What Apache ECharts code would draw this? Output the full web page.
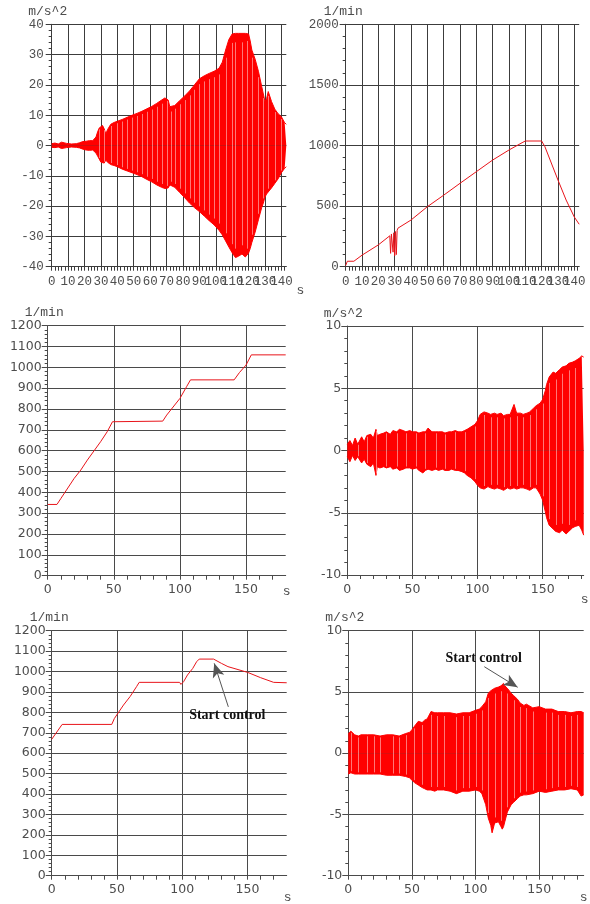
<!DOCTYPE html>
<html><head><meta charset="utf-8">
<script src="https://cdn.jsdelivr.net/npm/echarts@6/dist/echarts.min.js"></script>
<style>html,body{margin:0;padding:0;background:#fff}#c{width:590px;height:904px}</style>
</head><body><div id="c"></div>
<script>
// ---------- Panel 1: acceleration run-up (m/s^2) ----------
const p1Time  = [0,2,4,6,7,9,12,15,17,19,21,23,25,26,27,28,29,30,31,32,33,34,36,38,40,43,46,49,52,55,58,61,64,67,69,70,71,72,73,75,78,81,84,87,90,93,96,99,102,104,106,108,110,112,114,116,118,119,120,121,122,124,126,128,129,130,131,132,134,136,138,140,142,143];
const p1Upper = [0.6,0.8,0.5,1.1,0.6,0.7,0.5,0.6,0.9,1.3,1.4,1.6,1.6,1.8,2.8,4.5,5.8,6.4,6.6,5.5,3.8,5.2,7.0,7.6,8.0,8.6,9.3,10.0,10.6,11.3,12.1,12.9,13.9,15.0,15.7,16.0,15.0,12.8,12.2,13.2,14.8,16.3,18.0,20.0,22.0,23.0,23.8,24.5,25.5,27.5,31.5,35.0,36.8,37.0,37.0,37.0,37.0,37.5,36.8,34.5,31.5,28.5,24.5,19.5,17.0,14.5,15.5,17.8,14.5,12.0,10.5,9.5,7.5,7.0];
const p1Lower = [-0.6,-0.7,-0.5,-1.0,-0.6,-0.7,-0.5,-0.6,-0.8,-1.2,-1.5,-1.6,-1.5,-1.7,-2.5,-3.5,-4.5,-5.5,-6.0,-5.8,-4.8,-5.5,-6.3,-6.6,-7.0,-7.8,-8.4,-9.0,-9.6,-10.3,-11.2,-12.0,-13.0,-13.8,-14.2,-14.5,-14.0,-13.0,-13.0,-13.8,-15.5,-17.2,-19.0,-20.5,-21.8,-23.3,-24.8,-26.2,-28.0,-29.5,-31.5,-33.5,-35.4,-37.0,-36.5,-35.8,-36.8,-37.0,-35.5,-34.0,-32.0,-28.6,-24.5,-20.5,-19.0,-17.0,-16.0,-15.5,-14.0,-12.5,-11.0,-9.0,-7.5,-7.0];
const p1Stripes = [29,32,36,40,43,46,49,52,55,58,61,64,67,70,73,75,78,81,84,87,90,93,96,99,102,106,110,112,116,119,122,126,129,132,136,140];

// ---------- Panel 2: speed run-up (1/min) ----------
const p2Time  = [0,1,5,6,10,20,27,27.5,28,28.5,29,29.5,30,30.5,31,31.5,32,40,50,60,70,80,90,100,108,110,120,121,122,130,135,140,143];
const p2Speed = [10,45,45,35,95,180,255,110,270,260,120,280,90,290,100,300,318,385,495,590,688,784,880,963,1023,1037,1037,1030,990,715,550,410,350];

// ---------- Panel 3: speed steps (1/min) ----------
const p3Time  = [0,7,10,20,25,30,40,45,49,50,87,90,100,105,108,141,145,150,154,180];
const p3Speed = [342,342,371,467,507,555,643,691,739,742,742,771,851,907,940,940,975,1011,1060,1060];

// ---------- Panel 4: acceleration, no control (m/s^2) ----------
const p4Time  = [0,2,4,6,8,11,13,15,18,20,22,23,25,28,30,33,35,38,40,43,45,48,50,53,55,58,60,62,65,68,70,73,75,78,80,83,85,88,90,92,95,98,100,102,105,108,110,113,115,118,120,123,125,128,130,133,135,138,140,143,145,148,150,152,153,155,158,160,163,165,168,170,173,175,178,180,181.5];
const p4Upper = [0.5,0.8,0.4,1.0,0.5,1.1,0.7,1.2,1.3,1.0,1.7,1.2,1.3,1.4,1.5,1.3,1.6,1.5,1.7,1.6,1.5,1.6,1.5,1.5,1.4,1.5,1.5,1.8,1.5,1.5,1.5,1.5,1.4,1.5,1.5,1.6,1.5,1.5,1.6,1.7,1.9,2.1,2.4,2.9,3.1,3.0,2.9,3.0,2.9,3.0,2.8,2.9,2.9,3.7,3.0,3.0,2.9,3.0,3.1,3.4,3.6,3.8,4.1,4.8,5.3,5.9,6.3,6.2,6.5,6.7,6.8,7.0,7.1,7.2,7.4,7.6,7.5];
const p4Lower = [-0.5,-0.9,-0.4,-0.8,-0.5,-1.0,-0.7,-1.1,-1.3,-1.0,-2.0,-1.3,-1.4,-1.3,-1.4,-1.3,-1.5,-1.4,-1.6,-1.5,-1.4,-1.4,-1.5,-1.4,-1.6,-1.8,-1.6,-1.5,-1.6,-1.5,-1.6,-1.5,-1.6,-1.6,-1.5,-1.6,-1.6,-1.7,-1.8,-2.0,-2.2,-2.5,-2.8,-3.0,-3.1,-2.9,-3.0,-3.1,-3.0,-3.1,-3.2,-3.0,-3.1,-3.0,-3.1,-3.0,-3.0,-3.1,-3.2,-3.0,-3.0,-3.5,-4.0,-4.9,-5.4,-6.0,-6.3,-6.5,-6.6,-6.4,-6.7,-6.5,-6.2,-6.1,-6.0,-6.4,-6.8];
const p4Stripes = [8,15,22,30,38,45,53,60,68,75,83,90,98,105,110,115,120,125,130,135,140,145,150,155,160,165,170,175];

// ---------- Panel 5: speed with control (1/min) ----------
const p5Time  = [0,8,46,48,55,60,65,67,98,99,101,104,108,111,113,124,130,135,150,160,170,180];
const p5Speed = [668,741,741,770,836,877,926,947,947,937,950,983,1015,1048,1061,1061,1040,1024,996,970,947,945];

// ---------- Panel 6: acceleration with control (m/s^2) ----------
const p6Time  = [0,2,5,8,10,15,20,25,30,35,40,45,48,50,52,55,58,60,62,65,68,70,75,80,85,90,95,100,103,105,108,110,112,113,115,118,120,121,122,123,125,128,130,133,135,138,140,145,150,155,160,165,170,175,180,183,185];
const p6Upper = [1.6,1.8,1.5,1.4,1.5,1.5,1.5,1.4,1.5,1.5,1.4,1.6,1.7,1.9,2.2,2.6,2.5,2.7,2.8,3.4,3.3,3.3,3.3,3.3,3.2,3.3,3.3,3.5,3.6,3.8,4.2,4.9,5.1,5.2,5.3,5.4,5.5,5.5,5.7,5.5,5.3,4.9,4.7,4.4,4.1,3.9,4.0,3.7,3.8,3.6,3.6,3.4,3.4,3.3,3.4,3.4,3.3];
const p6Lower = [-1.7,-1.6,-1.7,-1.7,-1.7,-1.7,-1.7,-1.7,-1.8,-1.8,-1.8,-1.9,-2.0,-2.2,-2.4,-2.6,-2.8,-2.9,-3.0,-3.0,-3.1,-3.0,-3.0,-3.1,-3.3,-3.1,-3.1,-3.0,-3.1,-3.3,-4.2,-5.3,-5.9,-6.5,-5.7,-5.6,-6.0,-6.2,-6.0,-5.6,-4.8,-4.2,-4.0,-3.7,-3.5,-3.4,-3.4,-3.3,-3.1,-3.2,-3.1,-3.0,-3.0,-2.9,-3.0,-3.5,-3.4];
const p6Stripes = [2,8,15,20,25,35,40,45,52,58,65,70,75,85,90,95,100,105,110,115,120,125,130,135,140,145,155,160,165,170,175,180];

// ---------- Annotations ("Start control") in data coordinates ----------
const p5NoteTail = [135.3, 827], p5NoteHead = [124.5, 1040], p5NoteText = [134.5, 785];
const p6NoteTail = [106.9, 7.06], p6NoteHead = [133.1, 5.38], p6NoteText = [106.4, 7.75];
const noteLabel = 'Start control';

// ---------- Axis settings ----------
const unitAcc = 'm/s^2', unitSpeed = '1/min', unitTime = 's';

const RED = '#ff0000';
const MONO = 'Liberation Mono';
const SANS = 'DejaVu Sans';

const panels = [
  {grid:{left:51.7, top:24.3, width:234.6, height:242.4}, xMax:143, xStep:2, xEvery:10, y:[-40,40,10], unit:unitAcc, font:MONO, fs:12.5, gc:'#3c3c3c', yMargin:8, nameDx:8, nameGap:4, sGap:-5, sPad:17},
  {grid:{left:345.7, top:24.3, width:233.5, height:242.4}, xMax:143, xStep:2, xEvery:10, y:[0,2000,500], unit:unitSpeed, font:MONO, fs:12.5, gc:'#3c3c3c', yMargin:7, nameDx:5, nameGap:4, sGap:-4, sPad:17},
  {grid:{left:47.7, top:325.7, width:238, height:250}, xMax:180, xStep:10, xEvery:50, y:[0,1200,100], unit:unitSpeed, font:SANS, fs:12.5, gc:'#4a4a4a', yMargin:6, nameDx:7, nameGap:4, sGap:-3, sPad:9},
  {grid:{left:347.3, top:326, width:236.4, height:249}, xMax:181.5, xStep:10, xEvery:50, y:[-10,10,5], unit:unitAcc, font:SANS, fs:12.5, gc:'#4a4a4a', yMargin:6, nameDx:8, nameGap:4, sGap:-3, sPad:18},
  {grid:{left:51.7, top:630.7, width:235, height:245}, xMax:180, xStep:10, xEvery:50, y:[0,1200,100], unit:unitSpeed, font:SANS, fs:12.5, gc:'#4a4a4a', yMargin:6, nameDx:5, nameGap:5, sGap:-3, sPad:15},
  {grid:{left:348.3, top:630.7, width:235.4, height:245}, xMax:185, xStep:10, xEvery:50, y:[-10,10,5], unit:unitAcc, font:SANS, fs:12.5, gc:'#4a4a4a', yMargin:6, nameDx:7, nameGap:4, sGap:-4, sPad:15}
];

const grids = [], xAxes = [], yAxes = [], series = [];
panels.forEach((p, i) => {
  grids.push(Object.assign({containLabel:false, outerBoundsMode:'none'}, p.grid));
  const per = Math.round(p.xEvery / p.xStep);
  const splitColors = [p.gc].concat(new Array(per - 1).fill('transparent'));
  xAxes.push({
    type:'value', gridIndex:i, min:0, max:p.xMax, interval:p.xStep,
    axisLine:{show:true, onZero:false, lineStyle:{color:p.gc, width:1}},
    axisTick:{show:true, inside:false, length:4, lineStyle:{color:p.gc, width:1}},
    minorTick:{show:false},
    axisLabel:{show:true, showMaxLabel:false, showMinLabel:true, margin:8, color:'#4d4d4d', fontFamily:p.font, fontSize:p.fs,
      formatter: v => (Math.abs(v - Math.round(v / p.xEvery) * p.xEvery) < 1e-6 ? String(Math.round(v)) : '')},
    splitLine:{show:true, showMaxLine:false, lineStyle:{color:splitColors, width:1}},
    name:unitTime, nameLocation:'end', nameGap:p.sGap,
    nameTextStyle:{fontFamily:MONO, fontSize:13, color:'#4d4d4d', align:'left', verticalAlign:'top', padding:[p.sPad,0,0,0]}
  });
  yAxes.push({
    type:'value', gridIndex:i, min:p.y[0], max:p.y[1], interval:p.y[2],
    axisLine:{show:true, onZero:false, lineStyle:{color:p.gc, width:1}},
    axisTick:{show:true, inside:false, length:6, lineStyle:{color:p.gc, width:1}},
    minorTick:{show:true, splitNumber:5, length:3, lineStyle:{color:p.gc, width:1}},
    axisLabel:{show:true, margin:p.yMargin, color:'#4d4d4d', fontFamily:p.font, fontSize:p.fs, formatter: v => String(v)},
    splitLine:{show:true, lineStyle:{color:p.gc, width:1}},
    name:p.unit, nameLocation:'end', nameGap:p.nameGap,
    nameTextStyle:{fontFamily:MONO, fontSize:13, color:'#4d4d4d', align:'center', padding:[0,p.nameDx,0,0]}
  });
});

function zip(a, b) { return a.map((t, k) => [t, b[k]]); }

function envelope(i, time, upper, lower, stripes, note) {
  const up = {
    type:'line', xAxisIndex:i, yAxisIndex:i, data:zip(time, upper), symbol:'none', showSymbol:false,
    lineStyle:{color:RED, width:1}, areaStyle:{color:RED, opacity:1, origin:0}, z:2, silent:true
  };
  const lo = {
    type:'line', xAxisIndex:i, yAxisIndex:i, data:zip(time, lower), symbol:'none', showSymbol:false,
    lineStyle:{color:RED, width:1}, areaStyle:{color:RED, opacity:1, origin:0}, z:2, silent:true
  };
  const stripeData = stripes.map(t => { const k = time.indexOf(t); return [t, lower[k], upper[k]]; }).filter(d => d[1] !== undefined);
  const st = {
    type:'custom', xAxisIndex:i, yAxisIndex:i, data:stripeData, z:3, silent:true,
    encode:{x:0, y:[1,2]},
    renderItem:(params, api) => {
      const a = api.coord([api.value(0), api.value(2) * 0.92]);
      const b = api.coord([api.value(0), api.value(1) * 0.92]);
      const x = Math.round(a[0]) + 0.5;
      return {type:'line', shape:{x1:x, y1:a[1], x2:x, y2:b[1]}, style:{stroke:'rgba(255,235,235,0.5)', lineWidth:1}};
    }
  };
  series.push(up, lo, st);
  if (note) attachNote(up, note);
}

function attachNote(s, note) {
  s.markLine = {
    silent:true, animation:false, symbol:['none','arrow'], symbolSize:[9,14],
    lineStyle:{color:'#555', width:1, type:'solid'}, label:{show:false},
    emphasis:{disabled:true},
    data:[[{coord:note.tail}, {coord:note.head}]]
  };
  s.markPoint = {
    silent:true, animation:false, symbol:'rect', symbolSize:1, itemStyle:{color:'rgba(0,0,0,0)'},
    label:{show:true, position:'inside', formatter:noteLabel, fontFamily:'Liberation Serif', fontWeight:'bold', fontSize:14, color:'#111'},
    data:[{coord:note.text}]
  };
}

function speedLine(i, time, speed, note) {
  const s = {
    type:'line', xAxisIndex:i, yAxisIndex:i, data:zip(time, speed), symbol:'none', showSymbol:false,
    lineStyle:{color:'#e8141a', width:1}, z:2, silent:true
  };
  series.push(s);
  if (note) attachNote(s, note);
}

envelope(0, p1Time, p1Upper, p1Lower, p1Stripes, null);
speedLine(1, p2Time, p2Speed, null);
speedLine(2, p3Time, p3Speed, null);
envelope(3, p4Time, p4Upper, p4Lower, p4Stripes, null);
speedLine(4, p5Time, p5Speed, {tail:p5NoteTail, head:p5NoteHead, text:p5NoteText});
envelope(5, p6Time, p6Upper, p6Lower, p6Stripes, {tail:p6NoteTail, head:p6NoteHead, text:p6NoteText});

const chart = echarts.init(document.getElementById('c'), null, {renderer:'canvas'});
chart.setOption({
  animation:false,
  backgroundColor:'#ffffff',
  grid:grids, xAxis:xAxes, yAxis:yAxes, series:series,
  tooltip:{show:false}, legend:{show:false}
});
</script>
</body></html>
